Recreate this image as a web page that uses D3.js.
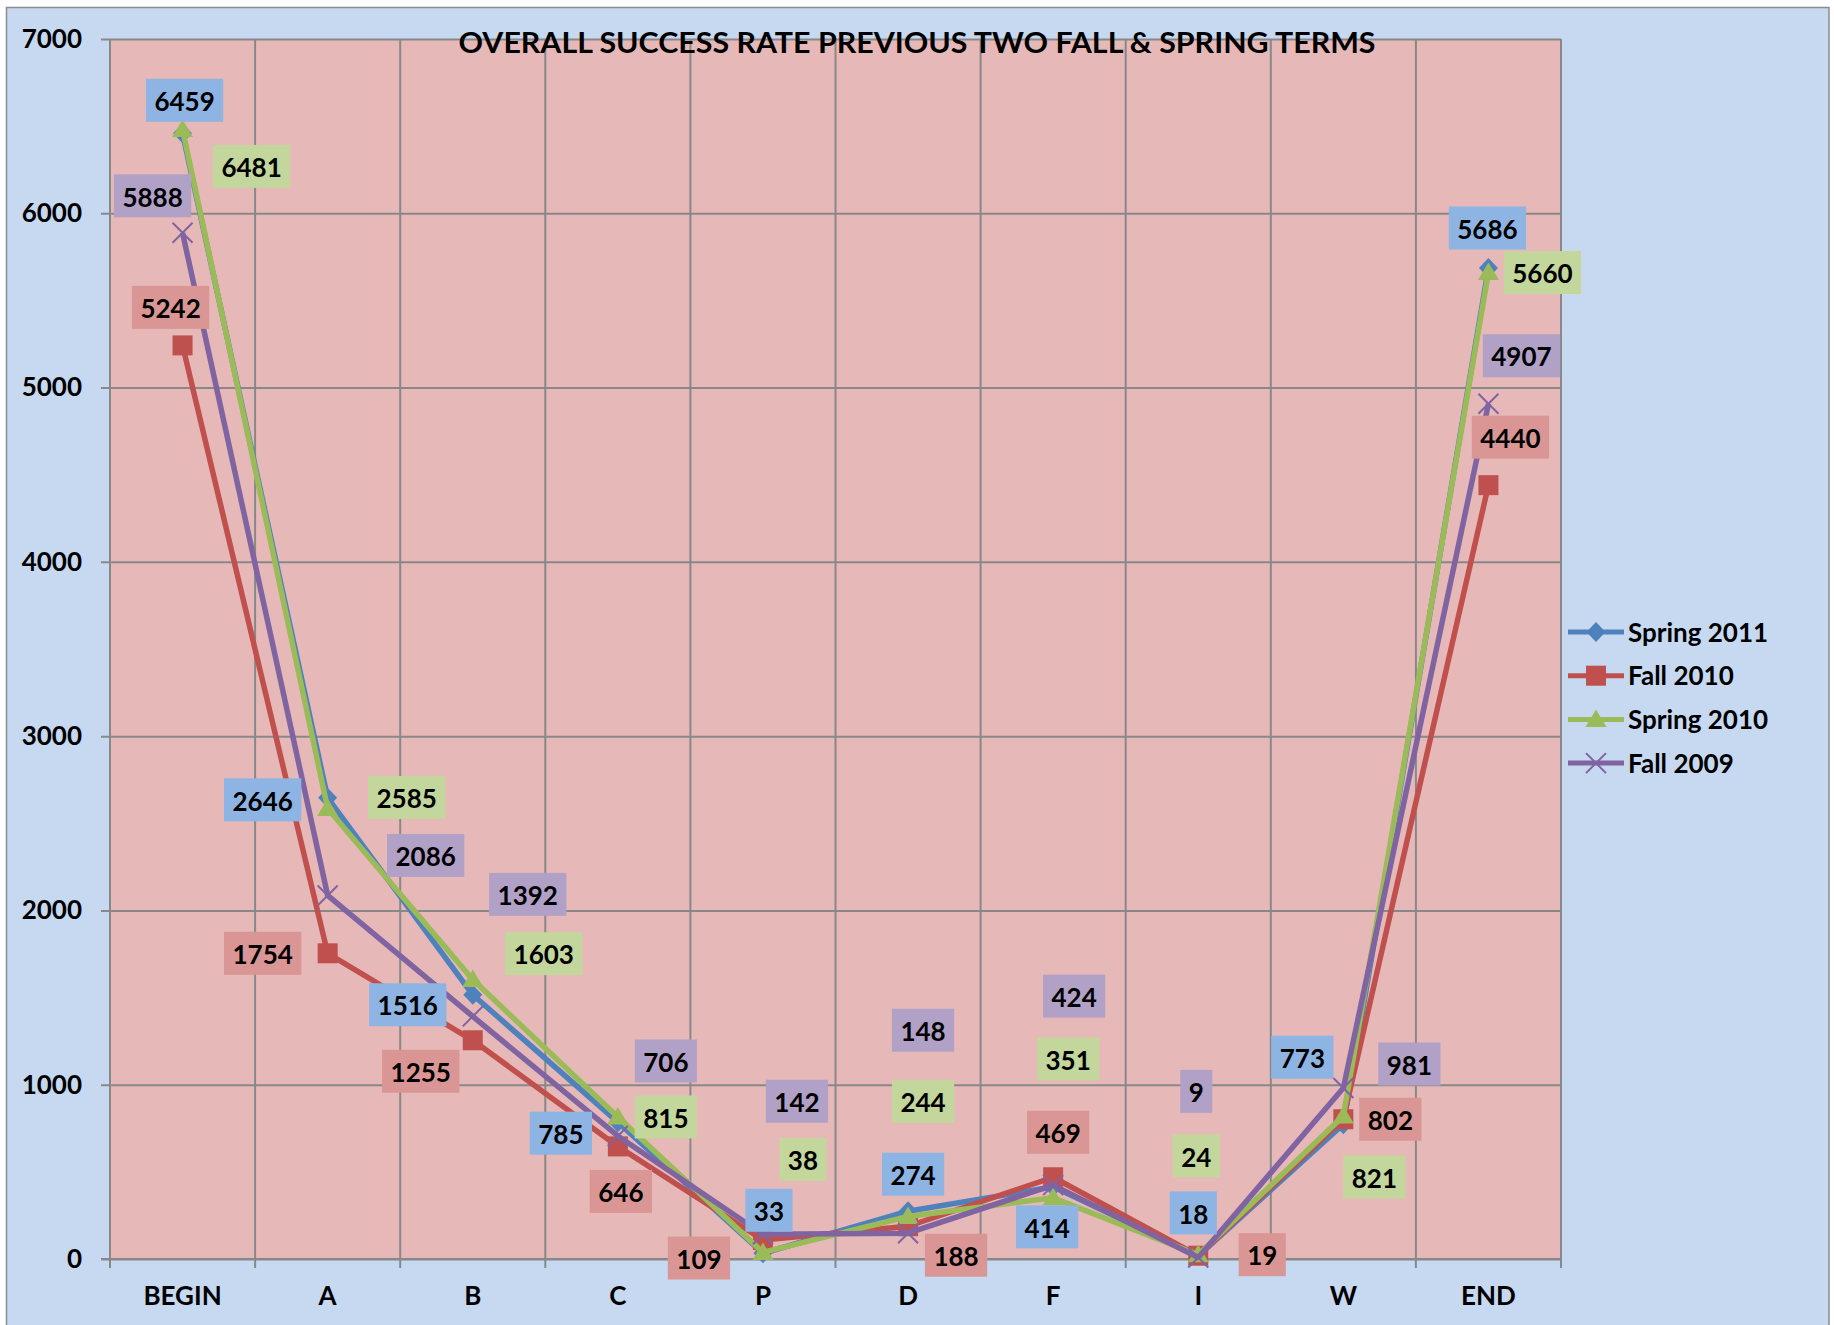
<!DOCTYPE html>
<html>
<head>
<meta charset="utf-8">
<script src="https://cdn.jsdelivr.net/npm/d3@7/dist/d3.min.js"></script>
<style>
body { margin: 0; background: #fff; }
svg text { font-family: Lato, "Liberation Sans", sans-serif; font-weight: bold; fill: #000; }
</style>
</head>
<body>
<script>
var title = "OVERALL SUCCESS RATE PREVIOUS TWO FALL & SPRING TERMS";
var categories = ["BEGIN", "A", "B", "C", "P", "D", "F", "I", "W", "END"];
var yTicks = [0, 1000, 2000, 3000, 4000, 5000, 6000, 7000];

var seriesNames = ["Spring 2011", "Fall 2010", "Spring 2010", "Fall 2009"];
var spring2011 = [6459, 2646, 1516, 785, 33, 274, 414, 18, 773, 5686];
var fall2010   = [5242, 1754, 1255, 646, 109, 188, 469, 19, 802, 4440];
var spring2010 = [6481, 2585, 1603, 815, 38, 244, 351, 24, 821, 5660];
var fall2009   = [5888, 2086, 1392, 706, 142, 148, 424, 9, 981, 4907];

var lineColors = ["#4F81BD", "#C0504D", "#9BBB59", "#8064A2"];
var boxColors  = ["#8EB4E3", "#DA9694", "#C3D69B", "#B2A1C7"];
var markers    = ["diamond", "square", "triangle", "x"];

// the labels were dragged around by hand in the original, so keep the offsets (px from the point)
var labelOffsets = [
    [[2, -33], [-65, 2], [-65, 10], [-57, 11], [6, -43], [5, -37], [-6, 40], [-5, -43], [-41, -67], [-1, -40]],
    [[-12, -38], [-65, 0], [-52, 31], [3, 45], [-64, 18], [48, 29], [5, -45], [64, -1], [47, 0], [22, -48]],
    [[69, 37], [79, -11], [71, -26], [48, 0], [40, -93], [15, -115], [15, -139], [-2, -99], [31, 61], [54, 0]],
    [[-30, -37], [98, -40], [55, -122], [48, -75], [34, -133], [15, -203], [21, -189], [-2, -166], [66, -24], [33, -48]]
];

var W = 1834, H = 1325;
var plotLeft = 110, plotRight = 1561, plotTop = 39, plotBottom = 1259;
var fontSize = 26;

var svg = d3.select("body").append("svg")
    .attr("width", W)
    .attr("height", H);

// chart area
svg.append("rect")
    .attr("x", 6.5).attr("y", 7.5)
    .attr("width", 1822.5).attr("height", 1340)
    .attr("fill", "#C6D9F1")
    .attr("stroke", "#8C8C8C")
    .attr("stroke-width", 1.5);

var x = d3.scaleBand().domain(categories).range([plotLeft, plotRight]);
var y = d3.scaleLinear().domain([0, 7000]).range([plotBottom, plotTop]);

svg.append("rect")
    .attr("x", plotLeft).attr("y", plotTop)
    .attr("width", plotRight - plotLeft).attr("height", plotBottom - plotTop)
    .attr("fill", "#E6B9B8");

// horizontal grid + y labels
var yAxis = d3.axisLeft(y)
    .tickValues(yTicks)
    .tickFormat(d3.format("d"))
    .tickSize(-(plotRight - plotLeft + 9))
    .tickPadding(19);
var gy = svg.append("g")
    .attr("transform", "translate(" + (plotLeft - 9) + ",0)")
    .call(yAxis);
gy.select(".domain").remove();
gy.selectAll("line").attr("stroke", "#888").attr("stroke-width", 2);
gy.selectAll("text").style("font-size", fontSize + "px").attr("fill", "#000");

// vertical grid at category boundaries, with the small ticks under the axis
var bounds = d3.range(categories.length + 1).map(function (i) { return plotLeft + i * x.step(); });
svg.selectAll("line.vgrid").data(bounds).enter().append("line")
    .attr("class", "vgrid")
    .attr("x1", function (d) { return d; }).attr("x2", function (d) { return d; })
    .attr("y1", plotTop).attr("y2", plotBottom + 9)
    .attr("stroke", "#888").attr("stroke-width", 2);

svg.append("line")
    .attr("x1", plotLeft - 9).attr("x2", plotRight)
    .attr("y1", plotBottom).attr("y2", plotBottom)
    .attr("stroke", "#888").attr("stroke-width", 2);

var xAxis = d3.axisBottom(x).tickSize(0).tickPadding(28);
var gx = svg.append("g")
    .attr("transform", "translate(0," + plotBottom + ")")
    .call(xAxis);
gx.select(".domain").remove();
gx.selectAll("text").style("font-size", fontSize + "px").attr("fill", "#000");

// title
svg.append("text")
    .attr("x", W / 2).attr("y", 52.5)
    .attr("text-anchor", "middle")
    .attr("textLength", 917)
    .attr("lengthAdjust", "spacingAndGlyphs")
    .style("font-size", "29px")
    .text(title);

function drawMarker(g, kind, color) {
    if (kind == "diamond") {
        g.append("path").attr("d", "M0,-10L9.5,0L0,10L-9.5,0Z").attr("fill", color);
    } else if (kind == "square") {
        g.append("rect").attr("x", -10).attr("y", -10).attr("width", 20).attr("height", 20).attr("fill", color);
    } else if (kind == "triangle") {
        g.append("path").attr("d", "M0,-10L10.5,7.5L-10.5,7.5Z").attr("fill", color);
    } else {
        g.append("path").attr("d", "M-10,-10L10,10M-10,10L10,-10")
            .attr("stroke", color).attr("stroke-width", 2).attr("fill", "none");
    }
}

var allSeries = [spring2011, fall2010, spring2010, fall2009];
var cx = function (i) { return x(categories[i]) + x.bandwidth() / 2; };

var line = d3.line()
    .x(function (d, i) { return cx(i); })
    .y(function (d) { return y(d); });

allSeries.forEach(function (vals, s) {
    var g = svg.append("g").attr("class", "series");
    g.append("path")
        .attr("d", line(vals))
        .attr("fill", "none")
        .attr("stroke", lineColors[s])
        .attr("stroke-width", 5.5)
        .attr("stroke-linejoin", "round");
    vals.forEach(function (v, i) {
        var m = g.append("g").attr("transform", "translate(" + cx(i) + "," + y(v) + ")");
        drawMarker(m, markers[s], lineColors[s]);
    });
});

// data labels
allSeries.forEach(function (vals, s) {
    vals.forEach(function (v, i) {
        var off = labelOffsets[s][i];
        var lg = svg.append("g")
            .attr("transform", "translate(" + (cx(i) + off[0]) + "," + (y(v) + off[1]) + ")");
        var box = lg.append("rect").attr("fill", boxColors[s]);
        var t = lg.append("text")
            .attr("text-anchor", "middle")
            .attr("y", 10.7)
            .style("font-size", fontSize + "px")
            .text(v);
        var tw = t.node().getComputedTextLength();
        box.attr("x", -(tw + 17) / 2).attr("y", -21.5)
            .attr("width", tw + 17).attr("height", 43);
    });
});

// legend
var legend = svg.append("g").attr("transform", "translate(1568,632)");
seriesNames.forEach(function (name, s) {
    var row = legend.append("g").attr("transform", "translate(0," + (s * 43.7) + ")");
    row.append("line")
        .attr("x1", 0).attr("x2", 56)
        .attr("stroke", lineColors[s]).attr("stroke-width", 5);
    drawMarker(row.append("g").attr("transform", "translate(28,0)"), markers[s], lineColors[s]);
    row.append("text")
        .attr("x", 60).attr("y", 9.5)
        .style("font-size", fontSize + "px")
        .text(name);
});
</script>
</body>
</html>
